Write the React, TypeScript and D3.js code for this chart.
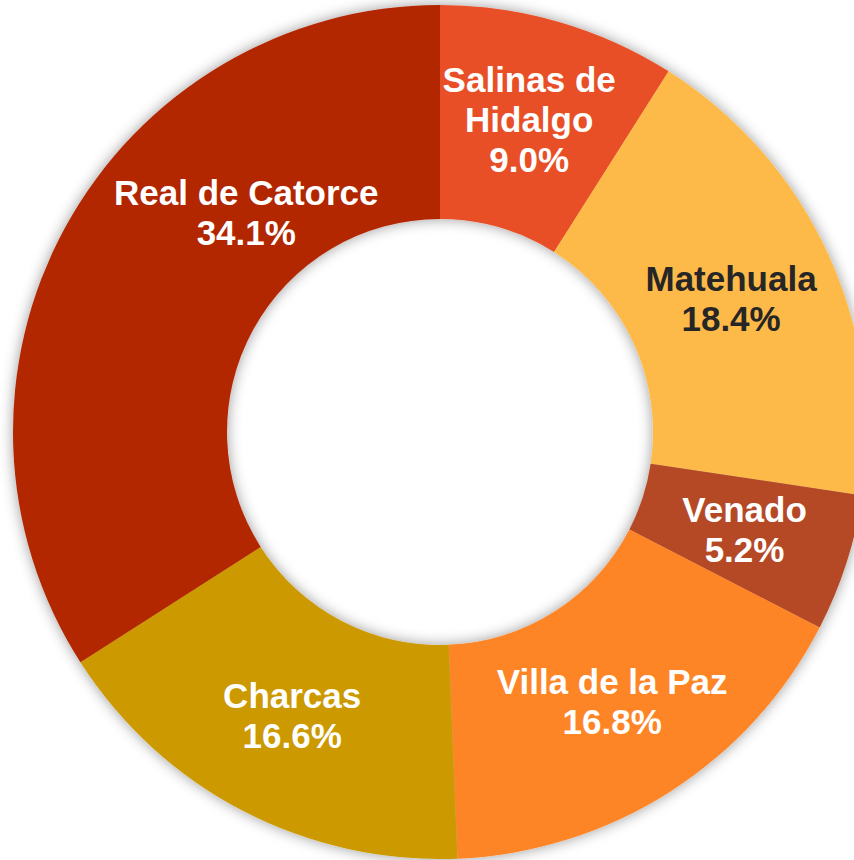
import React, { useRef, useEffect } from "react";
import * as d3 from "d3";

const categories = ["Salinas de Hidalgo", "Matehuala", "Venado", "Villa de la Paz", "Charcas", "Real de Catorce"];
const values = [9.0, 18.4, 5.2, 16.8, 16.6, 34.1];
const labelLines = [["Salinas de", "Hidalgo"], ["Matehuala"], ["Venado"], ["Villa de la Paz"], ["Charcas"], ["Real de Catorce"]];
const colors = ["#E84F26", "#FEBA4A", "#B54A27", "#FE8528", "#CC9900", "#B22600"];
const textColors = ["#ffffff", "#262626", "#ffffff", "#ffffff", "#ffffff", "#ffffff"];

const App: React.FC = () => {
  const svgRef = useRef<SVGSVGElement | null>(null);

  useEffect(() => {
    const cx = 440;
    const cy = 432;
    const outer = 427;
    const inner = 213;
    const lineH = 40;

    const svg = d3.select(svgRef.current);
    svg.selectAll("*").remove();

    const defs = svg.append("defs");
    const f = defs
      .append("filter")
      .attr("id", "shadow")
      .attr("x", "-20%")
      .attr("y", "-20%")
      .attr("width", "140%")
      .attr("height", "140%");
    f.append("feDropShadow")
      .attr("dx", 0)
      .attr("dy", 0)
      .attr("stdDeviation", 7)
      .attr("flood-color", "#000")
      .attr("flood-opacity", 0.4);

    const pie = d3
      .pie<number>()
      .sort(null)
      .value((d) => d)
      .startAngle(0)
      .endAngle(2 * Math.PI);
    const arcs = pie(values);

    const arc = d3.arc<d3.PieArcDatum<number>>().innerRadius(inner).outerRadius(outer);

    const g = svg.append("g").attr("transform", `translate(${cx},${cy})`);

    g.append("g")
      .attr("filter", "url(#shadow)")
      .selectAll("path")
      .data(arcs)
      .join("path")
      .attr("d", arc)
      .attr("fill", (_, i) => colors[i]);

    // a few labels are nudged off their centroid
    const adjust: Record<number, [number, number]> = { 0: [0, -5], 5: [87, -65] };

    arcs.forEach((a, i) => {
      let [x, y] = arc.centroid(a);
      if (adjust[i]) {
        x += adjust[i][0];
        y += adjust[i][1];
      }
      const lines = [...labelLines[i], `${values[i].toFixed(1)}%`];
      const n = lines.length;
      const t = g
        .append("text")
        .attr("text-anchor", "middle")
        .attr("font-family", "Liberation Sans, Arial, sans-serif")
        .attr("font-weight", "bold")
        .attr("font-size", 35)
        .attr("fill", textColors[i]);
      lines.forEach((l, j) => {
        t.append("tspan")
          .attr("x", x)
          .attr("y", y + (j - (n - 1) / 2) * lineH + 12)
          .text(l);
      });
    });
  }, []);

  return (
    <div>
      <svg ref={svgRef} width="854" height="860" style={{ position: "absolute", left: 0, top: 0 }} />
    </div>
  );
};

export default App;
